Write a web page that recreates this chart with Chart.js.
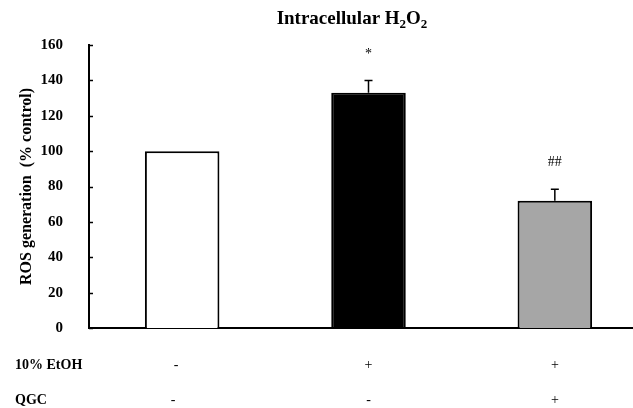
<!DOCTYPE html>
<html>
<head>
<meta charset="utf-8">
<script src="https://cdn.jsdelivr.net/npm/chart.js@4/dist/chart.umd.min.js"></script>
<style>
  html, body { margin: 0; padding: 0; background: #fff; overflow: hidden; }
  #wrap { width: 648px; height: 408px; }
</style>
</head>
<body>
<div id="wrap"><canvas id="rosChart"></canvas></div>
<script>
// Intracellular H2O2 — ROS generation (% control)

const groups = ['Control', 'EtOH', 'EtOH + QGC'];
const rosValues = [100, 133, 72];
const rosErrors = [0, 7, 6.5];
const sigMarks = ['', '*', '##'];
const ethanolRow = ['-', '+', '+'];
const qgcRow = ['-', '-', '+'];
const rowLabels = ['10% EtOH', 'QGC'];
const yMin = 0, yMax = 160, yStep = 20;

const serif = "'Liberation Serif', 'Times New Roman', serif";

// error bars, significance marks, treatment rows, inward ticks
const extrasPlugin = {
  id: 'extras',
  afterDatasetsDraw(chart) {
    const { ctx, scales: { x, y } } = chart;
    ctx.save();
    ctx.strokeStyle = '#000';
    ctx.fillStyle = '#000';

    // inward ticks on y axis
    ctx.lineWidth = 1.5;
    for (let v = yMin; v <= yMax; v += yStep) {
      const py = Math.round(y.getPixelForValue(v)) + 0.5;
      ctx.beginPath();
      ctx.moveTo(x.left, py);
      ctx.lineTo(x.left + 4, py);
      ctx.stroke();
    }

    rosValues.forEach((v, i) => {
      const cx = x.getPixelForValue(i);
      if (rosErrors[i]) {
        const y0 = y.getPixelForValue(v);
        const y1 = y.getPixelForValue(v + rosErrors[i]);
        ctx.lineWidth = 1.5;
        ctx.beginPath();
        ctx.moveTo(cx, y0);
        ctx.lineTo(cx, y1);
        ctx.moveTo(cx - 4, y1);
        ctx.lineTo(cx + 4, y1);
        ctx.stroke();
      }
      if (sigMarks[i]) {
        ctx.font = '14px ' + serif;
        ctx.textAlign = 'center';
        ctx.textBaseline = 'middle';
        const top = y.getPixelForValue(v + rosErrors[i]);
        ctx.fillText(sigMarks[i], cx, top - (sigMarks[i] === '*' ? 26 : 27));
      }
    });

    // treatment rows below the axis
    ctx.textBaseline = 'middle';
    ctx.font = 'bold 14px ' + serif;
    ctx.textAlign = 'left';
    ctx.fillText(rowLabels[0], 15, 365);
    ctx.fillText(rowLabels[1], 15, 400);
    ctx.font = '14px ' + serif;
    ctx.textAlign = 'center';
    ethanolRow.forEach((s, i) => ctx.fillText(s, x.getPixelForValue(i) - (i === 0 ? 6 : 0), 365));
    qgcRow.forEach((s, i) => ctx.fillText(s, x.getPixelForValue(i) - (i === 0 ? 9 : 0), 400));

    // title with subscripts
    ctx.textAlign = 'left';
    ctx.textBaseline = 'alphabetic';
    const parts = [['Intracellular H', 0], ['2', 1], ['O', 0], ['2', 1]];
    const fontFor = sub => (sub ? 'bold 13px ' : 'bold 19px ') + serif;
    let w = 0;
    parts.forEach(([t, sub]) => { ctx.font = fontFor(sub); w += ctx.measureText(t).width; });
    let tx = 352 - w / 2;
    parts.forEach(([t, sub]) => {
      ctx.font = fontFor(sub);
      ctx.fillText(t, tx, sub ? 28 : 24);
      tx += ctx.measureText(t).width;
    });
    ctx.restore();
  }
};

new Chart(document.getElementById('rosChart'), {
  type: 'bar',
  data: {
    labels: groups,
    datasets: [{
      data: rosValues,
      backgroundColor: ['#ffffff', '#000000', '#a6a6a6'],
      borderColor: '#000',
      borderWidth: 2,
      borderSkipped: 'bottom',
      barPercentage: 0.4,
      categoryPercentage: 1
    }]
  },
  options: {
    responsive: true,
    maintainAspectRatio: false,
    animation: false,
    layout: { padding: { top: 45, bottom: 80, left: 0, right: 0 } },
    plugins: { legend: { display: false }, tooltip: { enabled: false }, title: { display: false } },
    scales: {
      x: {
        ticks: { display: false },
        grid: { display: false, drawTicks: false },
        border: { color: '#000', width: 2 },
        afterFit: s => { s.height = 0; }
      },
      y: {
        min: yMin, max: yMax,
        ticks: { stepSize: yStep, color: '#000', padding: 26, font: { family: serif, size: 15, weight: 'bold' } },
        grid: { display: false, drawTicks: false },
        border: { color: '#000', width: 2 },
        title: { display: true, text: 'ROS generation  (% control)', color: '#000', font: { family: serif, size: 16, weight: 'bold' }, padding: { top: 17, bottom: 0 } },
        afterFit: s => { s.width = 89; }
      }
    }
  },
  plugins: [extrasPlugin]
});
</script>
</body>
</html>
